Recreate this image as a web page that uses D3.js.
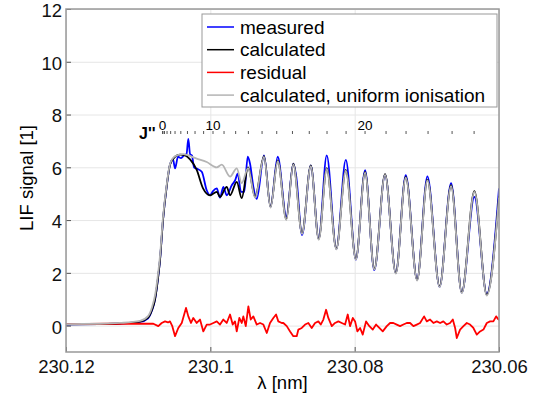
<!DOCTYPE html>
<meta charset='utf-8'>
<style>
    body { margin: 0; background: #fff; }
    svg { font-family: 'Liberation Sans', Arial, sans-serif; }
    .grid line { stroke: #e6e6e6; stroke-width: 1; }
    .grid path { display: none; }
    .axis path { display: none; }
    .axis line { stroke: #555; }
    .axis text { font-size: 18.5px; fill: #111; }
    .series { fill: none; stroke-width: 1.8; stroke-linejoin: round; }
</style>

<svg width="542" height="401"></svg>
<script src="https://d3js.org/d3.v7.min.js"></script>

<script>

// [wavelength nm, LIF signal]
var measured = [
    [230.12000, 0.05], [230.11529, 0.06], [230.11252, 0.08], [230.10974, 0.14], [230.10863, 0.28],
    [230.10808, 0.58], [230.10766, 1.00], [230.10725, 1.80], [230.10697, 2.50], [230.10656, 4.00],
    [230.10604, 5.30], [230.10559, 6.10], [230.10517, 6.30], [230.10489, 5.96], [230.10448, 6.40],
    [230.10406, 6.35], [230.10365, 6.45], [230.10330, 6.50], [230.10305, 7.08], [230.10281, 6.50],
    [230.10254, 6.45], [230.10226, 6.00], [230.10189, 5.95], [230.10119, 5.83], [230.10050, 5.13],
    [230.10004, 4.94], [230.09963, 5.10], [230.09911, 5.20], [230.09866, 4.85], [230.09820, 5.26],
    [230.09773, 4.94], [230.09703, 5.32], [230.09658, 5.50], [230.09620, 5.76], [230.09575, 5.07],
    [230.09529, 5.07], [230.09482, 6.40], [230.09450, 6.14], [230.09404, 5.26], [230.09357, 4.80],
    [230.09256, 6.45], [230.09166, 4.50], [230.09066, 6.40], [230.08947, 4.13], [230.08850, 6.14],
    [230.08812, 5.70], [230.08729, 3.43], [230.08608, 6.07], [230.08498, 3.30], [230.08387, 6.45],
    [230.08254, 2.90], [230.08123, 6.28], [230.07983, 2.50], [230.07856, 5.89], [230.07728, 2.10],
    [230.07579, 5.72], [230.07430, 2.00], [230.07292, 5.70], [230.07135, 1.74], [230.06992, 5.66],
    [230.06823, 1.47], [230.06664, 5.40], [230.06516, 1.25], [230.06341, 4.88], [230.06169, 1.20],
    [230.06000, 5.20]
];

var calculated = [
    [230.12000, 0.05], [230.11529, 0.06], [230.11252, 0.08], [230.10974, 0.15], [230.10863, 0.30],
    [230.10808, 0.60], [230.10766, 1.00], [230.10725, 1.80], [230.10697, 2.50], [230.10656, 4.00],
    [230.10604, 5.30], [230.10559, 6.10], [230.10489, 6.40], [230.10420, 6.48], [230.10351, 6.45],
    [230.10281, 6.30], [230.10189, 5.90], [230.10101, 5.20], [230.10004, 4.94], [230.09911, 5.07],
    [230.09866, 4.88], [230.09773, 5.26], [230.09727, 4.94], [230.09634, 5.45], [230.09565, 4.83],
    [230.09477, 6.00], [230.09380, 4.88], [230.09256, 6.42], [230.09166, 4.50], [230.09066, 6.26],
    [230.08947, 4.03], [230.08850, 6.14], [230.08729, 3.50], [230.08608, 6.07], [230.08498, 3.28],
    [230.08387, 5.97], [230.08254, 2.92], [230.08123, 5.90], [230.07983, 2.53], [230.07856, 5.83],
    [230.07728, 2.15], [230.07579, 5.74], [230.07430, 2.00], [230.07292, 5.64], [230.07135, 1.74],
    [230.06992, 5.53], [230.06823, 1.49], [230.06664, 5.32], [230.06516, 1.26], [230.06341, 5.10],
    [230.06169, 1.17], [230.06000, 4.90]
];

var uniform = [
    [230.12000, 0.06], [230.11529, 0.07], [230.11252, 0.10], [230.10974, 0.18], [230.10863, 0.36],
    [230.10808, 0.70], [230.10766, 1.15], [230.10725, 1.95], [230.10697, 2.65], [230.10656, 4.10],
    [230.10604, 5.35], [230.10559, 6.12], [230.10489, 6.42], [230.10378, 6.50], [230.10189, 6.33],
    [230.10050, 6.20], [230.09911, 6.00], [230.09842, 6.10], [230.09727, 5.65], [230.09634, 5.96],
    [230.09565, 5.40], [230.09477, 5.97], [230.09380, 4.85], [230.09256, 6.39], [230.09166, 4.47],
    [230.09066, 6.23], [230.08947, 4.00], [230.08850, 6.11], [230.08729, 3.47], [230.08608, 6.04],
    [230.08498, 3.25], [230.08387, 5.94], [230.08254, 2.89], [230.08123, 5.87], [230.07983, 2.50],
    [230.07856, 5.80], [230.07728, 2.12], [230.07579, 5.71], [230.07430, 1.97], [230.07292, 5.61],
    [230.07135, 1.71], [230.06992, 5.50], [230.06823, 1.46], [230.06664, 5.29], [230.06516, 1.23],
    [230.06341, 5.07], [230.06169, 1.14], [230.06000, 4.85]
];

var residual = [
    [230.12000, 0.06], [230.11390, 0.07], [230.10790, 0.07], [230.10721, -0.02], [230.10674, 0.10],
    [230.10628, 0.16], [230.10586, 0.12], [230.10559, 0.16], [230.10527, -0.02], [230.10489, -0.40],
    [230.10444, -0.09], [230.10396, 0.10], [230.10337, 0.67], [230.10305, 0.35], [230.10268, 0.10],
    [230.10236, 0.29], [230.10189, 0.10], [230.10143, 0.23], [230.10097, -0.22], [230.10050, 0.04],
    [230.10004, 0.04], [230.09958, 0.10], [230.09911, 0.16], [230.09866, 0.04], [230.09820, 0.23],
    [230.09773, 0.10], [230.09727, 0.42], [230.09690, 0.04], [230.09658, 0.16], [230.09634, -0.22],
    [230.09598, 0.29], [230.09565, 0.10], [230.09543, 0.35], [230.09509, -0.02], [230.09473, 0.73],
    [230.09440, 0.23], [230.09404, 0.35], [230.09357, 0.04], [230.09311, 0.10], [230.09265, 0.04],
    [230.09218, -0.28], [230.09173, 0.10], [230.09127, 0.29], [230.09089, 0.42], [230.09058, 0.16],
    [230.09010, 0.10], [230.08988, 0.10], [230.08941, -0.02], [230.08895, -0.22], [230.08850, -0.40],
    [230.08803, -0.40], [230.08780, -0.15], [230.08733, -0.09], [230.08687, 0.04], [230.08642, 0.10],
    [230.08595, -0.09], [230.08549, 0.10], [230.08503, 0.16], [230.08470, 0.04], [230.08434, 0.23],
    [230.08396, 0.60], [230.08365, 0.29], [230.08317, -0.02], [230.08272, 0.10], [230.08226, 0.16],
    [230.08179, 0.10], [230.08133, 0.04], [230.08096, 0.42], [230.08064, -0.02], [230.08026, 0.29],
    [230.07994, 0.16], [230.07963, -0.22], [230.07925, -0.09], [230.07888, -0.34], [230.07842, 0.16],
    [230.07796, -0.02], [230.07749, -0.15], [230.07703, 0.04], [230.07658, -0.09], [230.07611, -0.22],
    [230.07555, -0.02], [230.07509, 0.10], [230.07464, 0.10], [230.07417, 0.04], [230.07371, -0.02],
    [230.07325, 0.04], [230.07278, 0.10], [230.07232, 0.10], [230.07186, -0.02], [230.07139, 0.04],
    [230.07094, 0.10], [230.07038, 0.35], [230.07001, 0.16], [230.06955, 0.23], [230.06909, 0.10],
    [230.06862, 0.16], [230.06816, 0.10], [230.06771, 0.16], [230.06724, 0.04], [230.06678, 0.10],
    [230.06640, 0.23], [230.06608, -0.09], [230.06585, -0.47], [230.06539, -0.15], [230.06493, -0.02],
    [230.06446, 0.10], [230.06401, 0.04], [230.06355, -0.09], [230.06308, -0.34], [230.06262, -0.22],
    [230.06216, -0.15], [230.06169, 0.10], [230.06123, 0.16], [230.06078, 0.16], [230.06040, 0.35],
    [230.06008, 0.23], [230.06000, 0.25]
];

var xTicks = [230.12, 230.1, 230.08, 230.06];
var xTickLabels = ['230.12', '230.1', '230.08', '230.06'];
var yTicks = [0, 2, 4, 6, 8, 10, 12];

// rotational lines J''
var jPositions = [
    230.10663, 230.10656, 230.10635, 230.10600, 230.10550, 230.10489, 230.10409, 230.10317,
    230.10212, 230.10093, 230.09963, 230.09810, 230.09649, 230.09473, 230.09283, 230.09080,
    230.08862, 230.08629, 230.08383, 230.08119, 230.07856, 230.07565, 230.07288, 230.06983,
    230.06650, 230.06345
];
var jLabelled = ['0', '10', '20'];

var legendLabels = ['measured', 'calculated', 'residual', 'calculated, uniform ionisation'];
var legendColors = ['#0000ff', '#000000', '#ff0000', '#b4b4b4'];

var svg = d3.select('svg'),
    plotLeft = 66, plotRight = 499, plotTop = 9, plotBottom = 352;

var x = d3.scaleLinear().domain([230.12, 230.06]).range([plotLeft, plotRight]);
var y = d3.scaleLinear().domain([-1, 12]).range([plotBottom, plotTop]);

svg.append('rect').attr('width', 542).attr('height', 401).attr('fill', '#fff');

// grid
svg.append('g')
    .attr('class', 'grid')
    .attr('transform', 'translate(0,' + plotBottom + ')')
    .call(d3.axisBottom(x).tickValues(xTicks).tickSize(-(plotBottom - plotTop)).tickFormat(''));
svg.append('g')
    .attr('class', 'grid')
    .attr('transform', 'translate(' + plotLeft + ',0)')
    .call(d3.axisLeft(y).tickValues(yTicks).tickSize(-(plotRight - plotLeft)).tickFormat(''));

// axes
svg.append('g')
    .attr('class', 'axis')
    .attr('transform', 'translate(0,' + plotBottom + ')')
    .call(d3.axisBottom(x).tickValues(xTicks).tickSize(-5).tickPadding(8)
        .tickFormat(function(d, i) { return xTickLabels[i]; }));
svg.append('g')
    .attr('class', 'axis')
    .attr('transform', 'translate(' + plotLeft + ',0)')
    .call(d3.axisLeft(y).tickValues(yTicks).tickSize(-5).tickPadding(4))
  .selectAll('text')
    .attr('dy', '0.4em');

svg.append('defs').append('clipPath').attr('id', 'plot')
  .append('rect')
    .attr('x', plotLeft).attr('y', plotTop)
    .attr('width', plotRight - plotLeft).attr('height', plotBottom - plotTop);

var line = d3.line()
    .x(function(d) { return x(d[0]); })
    .y(function(d) { return y(d[1]); })
    .curve(d3.curveMonotoneX);

var noisy = d3.line()
    .x(function(d) { return x(d[0]); })
    .y(function(d) { return y(d[1]); });

var curves = svg.append('g').attr('clip-path', 'url(#plot)');

curves.append('path').datum(measured).attr('class', 'series')
    .attr('stroke', legendColors[0]).attr('d', line);
curves.append('path').datum(calculated).attr('class', 'series')
    .attr('stroke', legendColors[1]).attr('d', line);
curves.append('path').datum(residual).attr('class', 'series')
    .attr('stroke', legendColors[2]).attr('d', noisy);
curves.append('path').datum(uniform).attr('class', 'series')
    .attr('stroke', legendColors[3]).attr('d', line);

// J'' scale
var jAxis = svg.append('g');
jAxis.selectAll('line')
    .data(jPositions)
    .enter().append('line')
    .attr('x1', function(d) { return x(d); })
    .attr('x2', function(d) { return x(d); })
    .attr('y1', 131).attr('y2', 134)
    .attr('stroke', '#555').attr('stroke-width', 1);
jAxis.selectAll('text.jl')
    .data(jLabelled)
    .enter().append('text')
    .attr('class', 'jl')
    .attr('x', function(d) { return x(jPositions[+d]); })
    .attr('y', 129.5)
    .attr('text-anchor', 'middle')
    .attr('font-size', 13.5)
    .text(function(d) { return d; });
jAxis.append('text')
    .attr('x', 139).attr('y', 139)
    .attr('font-size', 16)
    .attr('font-weight', 'bold')
    .text("J''");

// frame
svg.append('rect')
    .attr('x', plotLeft).attr('y', plotTop)
    .attr('width', plotRight - plotLeft).attr('height', plotBottom - plotTop)
    .attr('fill', 'none').attr('stroke', '#999').attr('stroke-width', 1.5);

// legend
var legend = svg.append('g');
legend.append('rect')
    .attr('x', 202).attr('y', 14).attr('width', 295).attr('height', 93)
    .attr('fill', '#fff').attr('stroke', '#999').attr('stroke-width', 1);
var item = legend.selectAll('g.item')
    .data(legendLabels)
    .enter().append('g')
    .attr('class', 'item')
    .attr('transform', function(d, i) { return 'translate(0,' + (27 + i * 22.7) + ')'; });
item.append('line')
    .attr('x1', 207).attr('x2', 234)
    .attr('stroke', function(d, i) { return legendColors[i]; })
    .attr('stroke-width', 1.5);
item.append('text')
    .attr('x', 240).attr('dy', '0.35em')
    .attr('font-size', 19)
    .text(function(d) { return d; });

// axis titles
svg.append('text')
    .attr('x', (plotLeft + plotRight) / 2).attr('y', 389)
    .attr('text-anchor', 'middle').attr('font-size', 18.5)
    .text('λ [nm]');
svg.append('text')
    .attr('transform', 'translate(33,178) rotate(-90)')
    .attr('text-anchor', 'middle').attr('font-size', 18.5)
    .text('LIF signal [1]');

</script>
